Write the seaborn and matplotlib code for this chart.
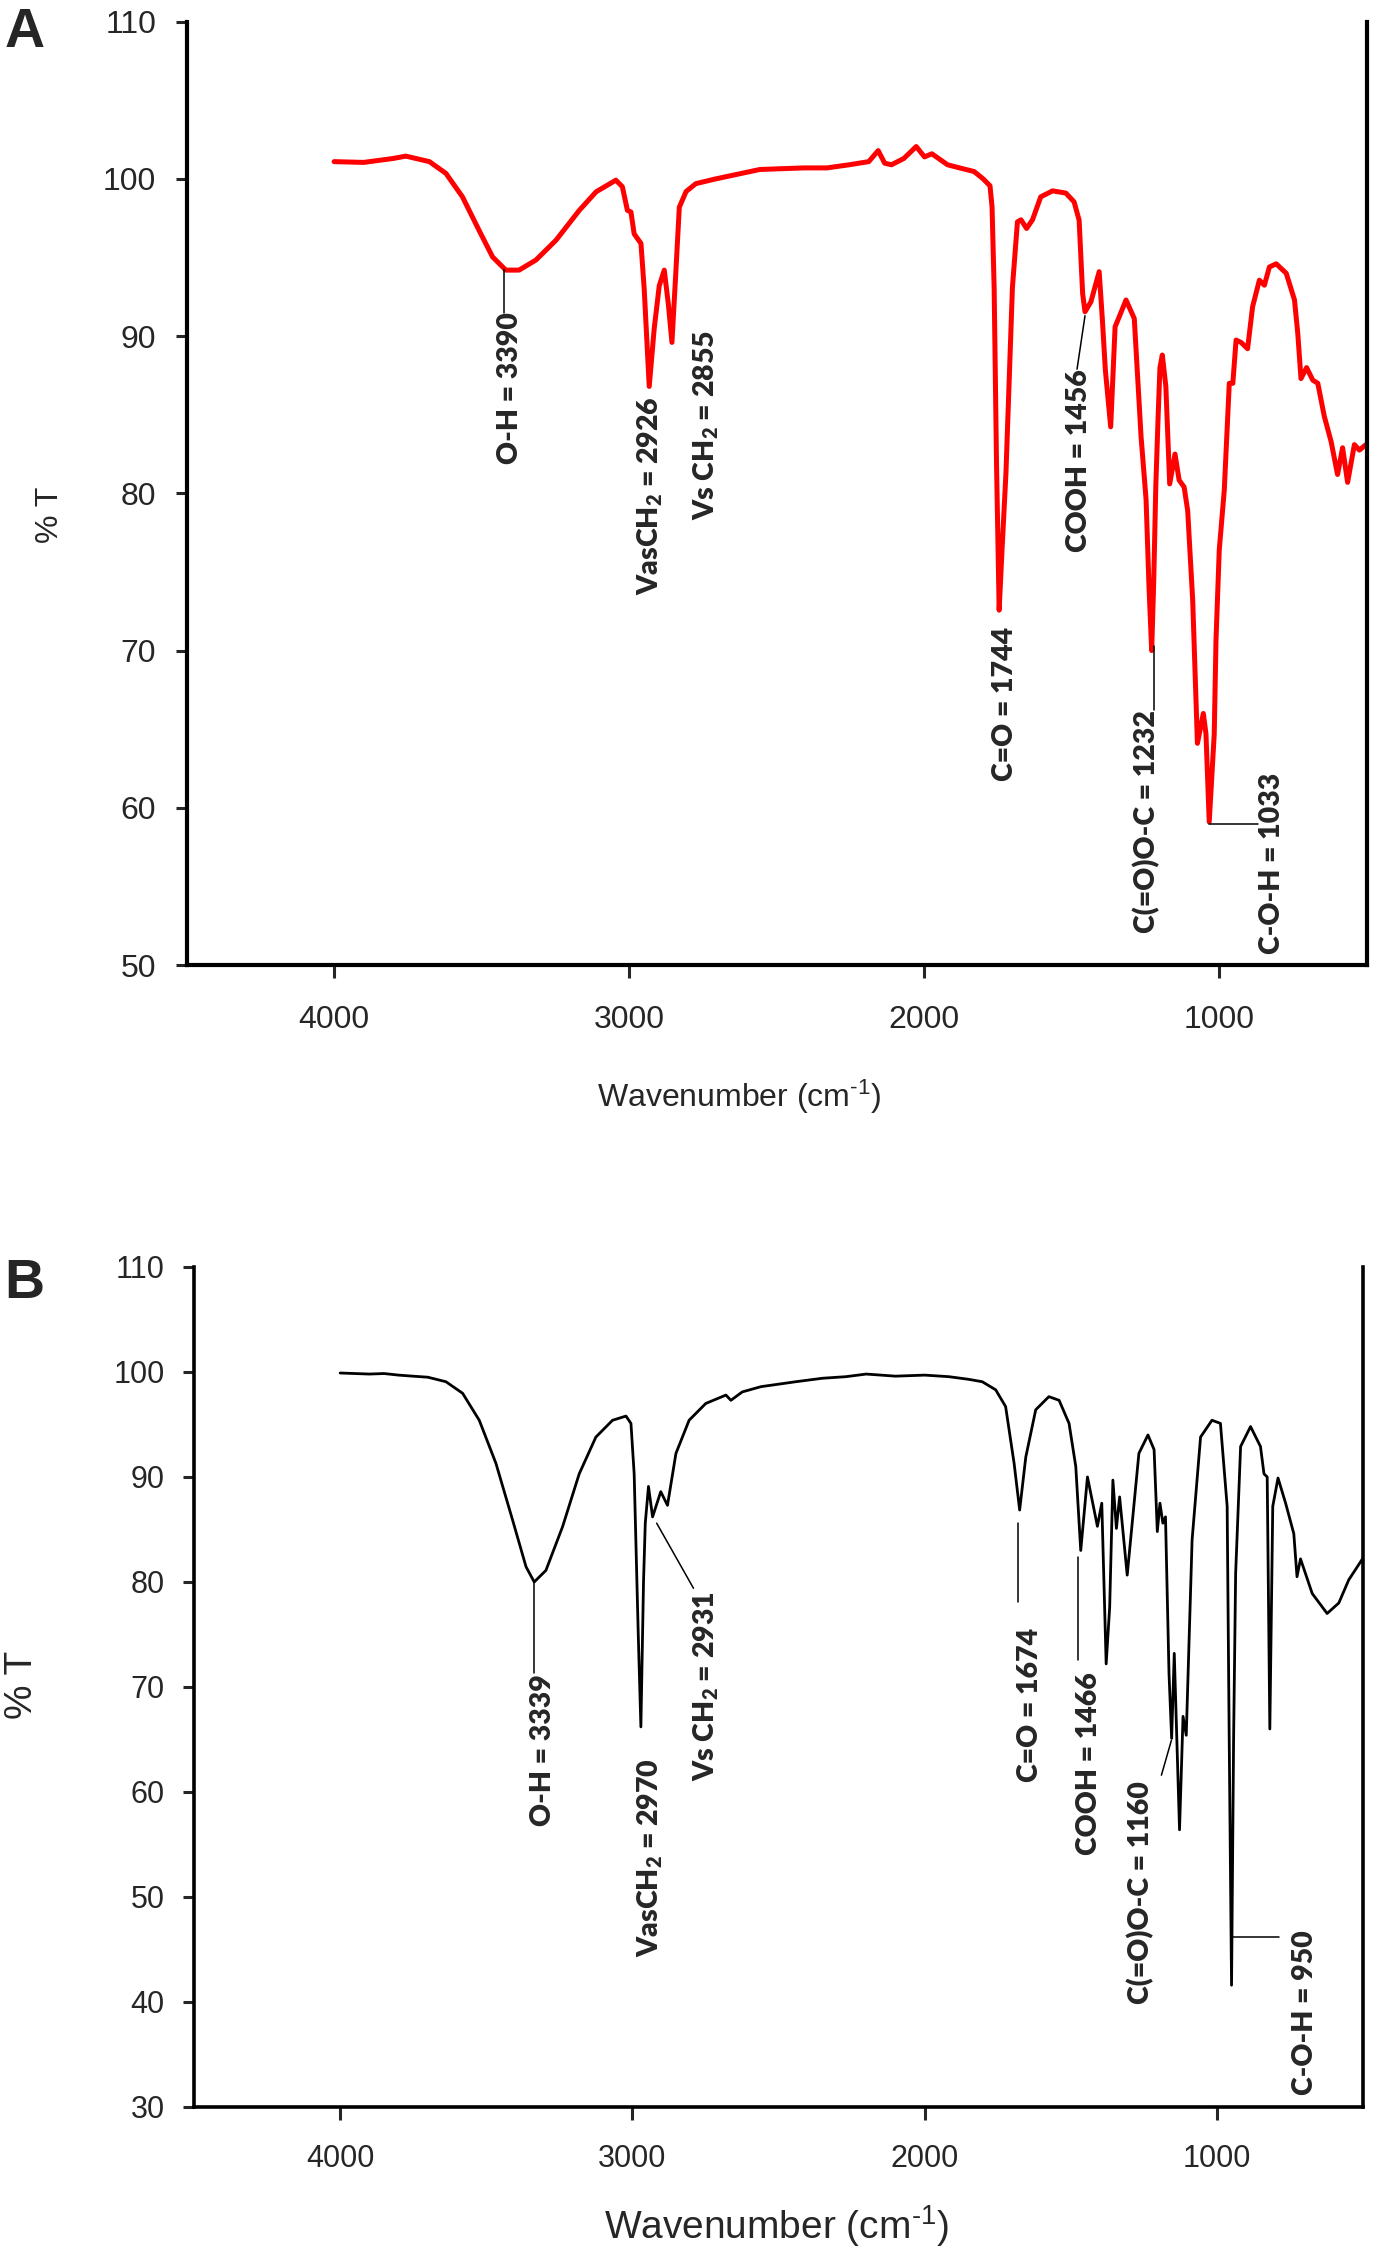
import numpy as np
import pandas as pd
import matplotlib
matplotlib.use("Agg")
import matplotlib.pyplot as plt
import seaborn as sns

# spectrum A (red)
wn_a = [4000, 3900, 3800, 3757, 3700, 3677, 3621, 3565, 3509, 3463, 3418, 3373,
        3316, 3248, 3169, 3112, 3045, 3023, 3006, 2994, 2983, 2960, 2949, 2932,
        2915, 2898, 2881, 2867, 2855, 2842, 2830, 2807, 2774, 2707, 2557, 2408,
        2330, 2254, 2188, 2156, 2134, 2111, 2069, 2027, 1999, 1974, 1921, 1880,
        1831, 1800, 1777, 1770, 1763, 1755, 1746, 1736, 1723, 1701, 1684, 1672,
        1653, 1633, 1605, 1565, 1520, 1492, 1475, 1463, 1455, 1435, 1407, 1396,
        1386, 1368, 1353, 1339, 1316, 1288, 1265, 1248, 1238, 1229, 1222, 1215,
        1207, 1201, 1193, 1181, 1168, 1150, 1136, 1119, 1107, 1090, 1074, 1054,
        1045, 1034, 1017, 1011, 1000, 983, 966, 954, 943, 926, 904, 887, 864,
        847, 830, 807, 773, 745, 734, 723, 704, 683, 666, 644, 621, 599, 582,
        565, 542, 525, 503]
t_a = [101.1, 101.05, 101.3, 101.45, 101.2, 101.1, 100.35, 98.86, 96.74, 95.04,
       94.2, 94.2, 94.84, 96.1, 98.0, 99.18, 99.92, 99.5, 98.0, 97.9, 96.5, 95.9,
       93.0, 86.8, 90.5, 93.2, 94.2, 92.0, 89.6, 94.0, 98.2, 99.2, 99.7, 100.0,
       100.6, 100.7, 100.7, 100.9, 101.1, 101.8, 101.0, 100.9, 101.3, 102.06,
       101.4, 101.6, 100.9, 100.7, 100.47, 100.0, 99.56, 98.2, 93.1, 82.0, 72.57,
       76.5, 81.27, 93.1, 97.27, 97.4, 96.85, 97.4, 98.86, 99.24, 99.1, 98.54,
       97.38, 92.7, 91.55, 92.18, 94.1, 91.0, 87.84, 84.23, 90.6, 91.23, 92.3,
       91.12, 83.6, 79.6, 74.0, 70.0, 74.5, 80.5, 85.0, 88.0, 88.8, 86.8, 80.6,
       82.5, 80.84, 80.4, 78.9, 73.2, 64.1, 66.0, 64.7, 59.1, 64.7, 70.7, 76.4,
       80.2, 87.0, 87.0, 89.75, 89.6, 89.2, 91.87, 93.56, 93.24, 94.4, 94.6,
       94.0, 92.3, 90.2, 87.3, 88.0, 87.2, 87.0, 84.9, 83.3, 81.2, 82.9, 80.7,
       83.1, 82.75, 83.1]

# spectrum B (black)
wn_b = [4000, 3900, 3850, 3800, 3752, 3700, 3638, 3581, 3524, 3467, 3410, 3364,
        3336, 3296, 3239, 3182, 3125, 3068, 3022, 3005, 2994, 2980, 2971, 2962,
        2956, 2945, 2931, 2903, 2880, 2851, 2806, 2749, 2680, 2663, 2624, 2560,
        2441, 2350, 2270, 2200, 2100, 2000, 1917, 1850, 1803, 1757, 1723, 1694,
        1675, 1654, 1620, 1575, 1540, 1506, 1483, 1466, 1443, 1409, 1394, 1379,
        1367, 1356, 1344, 1333, 1307, 1267, 1236, 1215, 1204, 1195, 1185, 1176,
        1164, 1155, 1146, 1128, 1116, 1105, 1085, 1056, 1017, 988, 965, 958, 950,
        943, 936, 919, 885, 851, 839, 828, 819, 809, 791, 765, 737, 726, 714,
        674, 623, 583, 549, 509, 500]
t_b = [99.9, 99.8, 99.85, 99.7, 99.6, 99.5, 99.07, 97.97, 95.4, 91.3, 85.9, 81.45,
       80.0, 81.1, 85.26, 90.3, 93.8, 95.4, 95.8, 95.1, 90.3, 75.0, 66.2, 80.0,
       85.6, 89.1, 86.2, 88.6, 87.3, 92.25, 95.4, 97.0, 97.8, 97.3, 98.1, 98.6,
       99.07, 99.4, 99.55, 99.8, 99.6, 99.7, 99.55, 99.3, 99.07, 98.3, 96.7, 91.3,
       86.85, 91.9, 96.4, 97.65, 97.3, 95.1, 91.0, 83.0, 90.0, 85.3, 87.5, 72.2,
       77.6, 89.7, 85.1, 88.1, 80.65, 92.25, 94.0, 92.6, 84.8, 87.5, 85.6, 86.2,
       71.3, 65.1, 73.2, 56.4, 67.2, 65.4, 84.0, 93.8, 95.4, 95.1, 87.2, 65.0,
       41.6, 65.0, 80.8, 92.9, 94.8, 92.9, 90.3, 90.0, 66.0, 87.2, 89.9, 87.5,
       84.6, 80.5, 82.2, 78.9, 77.0, 78.0, 80.2, 81.9, 82.3]

# peak labels: text, text x, text top y, leader line points
ann_a = [
    ("O-H = 3390", 3403, 91.5, [(3424, 94.3), (3424, 91.5)]),
    ("VasCH$_2$ = 2926", 2930, 86.2, None),
    ("Vs CH$_2$ = 2855", 2740, 90.4, None),
    ("C=O = 1744", 1725, 71.5, None),
    ("COOH = 1456", 1475, 87.9, [(1455, 91.3), (1482, 87.9)]),
    ("C(=O)O-C = 1232", 1248, 66.2, [(1222, 70.3), (1222, 66.2)]),
    ("C-O-H = 1033", 821, 62.2, [(1034, 59.0), (870, 59.0)]),
]
ann_b = [
    ("O-H = 3339", 3305, 71.2, [(3337, 80.0), (3337, 71.3)]),
    ("VasCH$_2$ = 2970", 2940, 63.2, None),
    ("Vs CH$_2$ = 2931", 2746, 79.1, [(2917, 85.6), (2791, 79.4)]),
    ("C=O = 1674", 1639, 75.6, [(1679, 85.6), (1679, 78.1)]),
    ("COOH = 1466", 1439, 71.4, [(1477, 82.4), (1477, 72.6)]),
    ("C(=O)O-C = 1160", 1262, 61.0, [(1156, 64.9), (1190, 61.6)]),
    ("C-O-H = 950", 697, 46.8, [(949, 46.2), (789, 46.2)]),
]

sns.set_style("white")
plt.rcParams["font.family"] = ["Liberation Sans", "DejaVu Sans"]
plt.rcParams["mathtext.default"] = "regular"

df_a = pd.DataFrame({"wn": wn_a, "T": t_a})
df_b = pd.DataFrame({"wn": wn_b, "T": t_b})

fig = plt.figure(figsize=(13.76, 22.6), dpi=100)
axA = fig.add_axes([0.1356, 0.573, 0.8577, 0.4174])
axB = fig.add_axes([0.141, 0.0677, 0.8496, 0.3717])

sns.lineplot(data=df_a, x="wn", y="T", ax=axA, color="#ff0000", linewidth=3.6,
             estimator=None)
sns.lineplot(data=df_b, x="wn", y="T", ax=axB, color="black", linewidth=2.0,
             estimator=None)


def style_axis(ax, ymin, lw, tick_fs, lab_fs, xpad, ypad, xl, yl):
    ax.set_xlim(4500, 500)
    ax.set_ylim(ymin, 110)
    ax.set_xticks([4000, 3000, 2000, 1000])
    ax.set_yticks(np.arange(ymin, 111, 10))
    ax.spines["top"].set_visible(False)
    for s in ["left", "right", "bottom"]:
        ax.spines[s].set_linewidth(lw)
        ax.spines[s].set_color("black")
    ax.tick_params(axis="x", direction="out", length=9, width=2.2,
                   labelsize=tick_fs, pad=xpad, bottom=True)
    ax.tick_params(axis="y", direction="out", length=8, width=2.2,
                   labelsize=tick_fs, pad=ypad, left=True)
    ax.set_xlabel("Wavenumber (cm$^{\u2010 1}$)", fontsize=lab_fs)
    ax.set_ylabel("% T", fontsize=lab_fs)
    ax.xaxis.set_label_coords(*xl)
    ax.yaxis.set_label_coords(*yl)
    ax.xaxis.label.set_va("center")
    ax.yaxis.label.set_va("center")


style_axis(axA, 50, 3.0, 23, 23, 20, 14, (0.468, -0.14), (-0.116, 0.477))
style_axis(axB, 30, 2.6, 22, 28, 18, 13, (0.498, -0.142), (-0.1475, 0.502))

for ax, anns in [(axA, ann_a), (axB, ann_b)]:
    for text, tx, ty, line in anns:
        ax.text(tx, ty, text, rotation=90, ha="center", va="top",
                fontsize=20.5, fontweight="heavy", family=["Lato", "DejaVu Sans"])
        if line:
            xs = [p[0] for p in line]
            ys = [p[1] for p in line]
            ax.plot(xs, ys, color="black", linewidth=1.1)

fig.text(0.003, 0.997, "A", ha="left", va="top", fontsize=40, fontweight="bold")
fig.text(0.003, 0.4435, "B", ha="left", va="top", fontsize=40, fontweight="bold")

fig.savefig("out.png", dpi=100)
